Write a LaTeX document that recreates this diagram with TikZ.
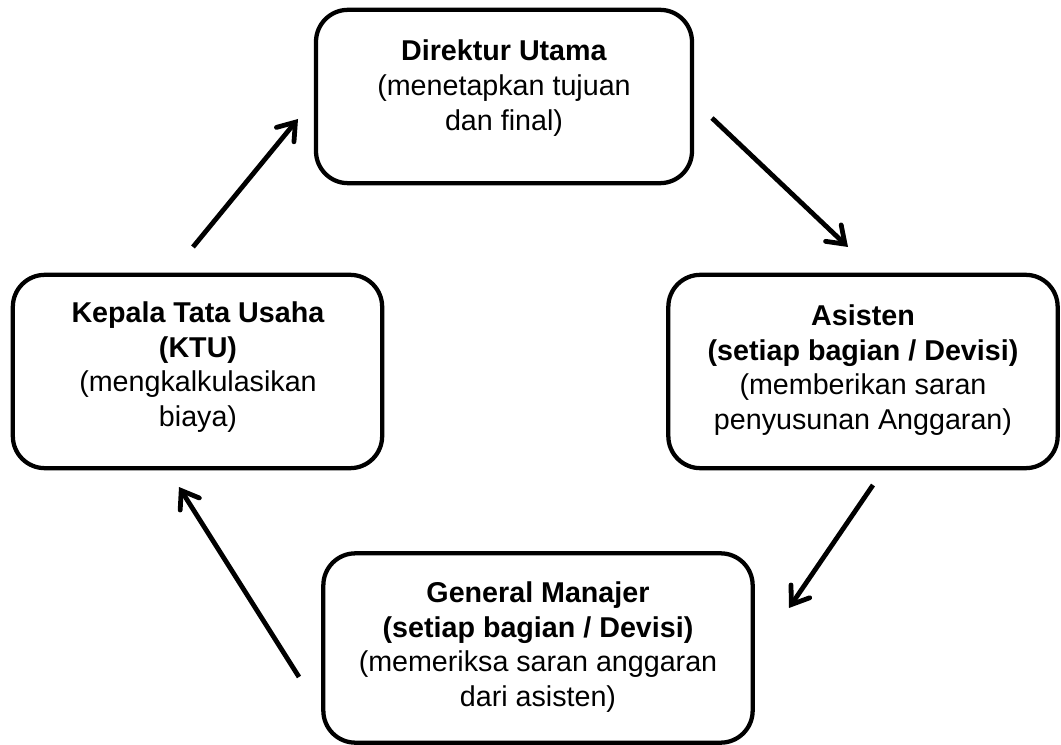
\documentclass[tikz,border=0pt]{standalone}
\usepackage{fontspec}
\setmainfont{Liberation Sans}
\usetikzlibrary{arrows.meta}
\begin{document}
\begin{tikzpicture}[x=0.75pt,y=-0.75pt,
    box/.style={draw=black,line width=3.2pt,rounded corners=24pt,inner sep=0pt},
    txt/.style={align=center,font=\fontsize{21.5}{26}\selectfont},
    arr/.style={line width=3.6pt,-{Straight Barb[length=12pt,width=17pt,line cap=round]}}]
    \useasboundingbox (0,0) rectangle (1061,745);
    % boxes
    \node[box,minimum width=282pt,minimum height=130pt] (dirut) at (504,96.5) {};
    \node[box,minimum width=292pt,minimum height=145pt] (asisten) at (863,371.5) {};
    \node[box,minimum width=322pt,minimum height=142pt] (gm) at (538,648) {};
    \node[box,minimum width=277pt,minimum height=145pt] (ktu) at (197.5,371.5) {};
    % texts
    \node[txt] (dirutText) at (504,88) {\textbf{Direktur Utama}\\(menetapkan tujuan\\dan final)};
    \node[txt] (asistenText) at (863,370) {\textbf{Asisten}\\\textbf{(setiap bagian / Devisi)}\\(memberikan saran\\penyusunan Anggaran)};
    \node[txt] (gmText) at (538,647) {\textbf{General Manajer}\\\textbf{(setiap bagian / Devisi)}\\(memeriksa saran anggaran\\dari asisten)};
    \node[txt] (ktuText) at (198,367) {\textbf{Kepala Tata Usaha}\\\textbf{(KTU)}\\(mengkalkulasikan\\biaya)};
    % arrow ends
    \coordinate (a1) at (193,247);
    \coordinate (b1) at (298,119);
    \coordinate (a2) at (712,118);
    \coordinate (b2) at (848,247);
    \coordinate (a3) at (873,485);
    \coordinate (b3) at (789,608);
    \coordinate (a4) at (299,677);
    \coordinate (b4) at (179,487);
    \draw[arr] (a1) -- (b1);
    \draw[arr] (a2) -- (b2);
    \draw[arr] (a3) -- (b3);
    \draw[arr] (a4) -- (b4);
\end{tikzpicture}
\end{document}
